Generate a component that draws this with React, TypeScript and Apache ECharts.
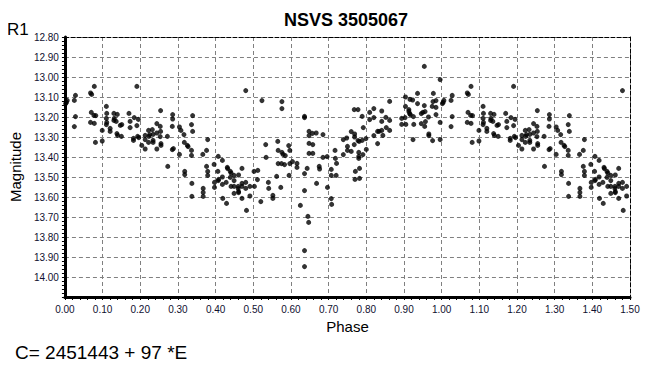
import React, { useEffect, useRef } from "react";
import * as echarts from "echarts";

const title = "NSVS 3505067";
const ephemeris = "C= 2451443 + 97 *E";
const xName = "Phase";
const yName = "Magnitude";
const bandName = "R1";

// phase (0..1) readings
const phases: number[] = [
  0.002, 0.006, 0.004, 0.025, 0.028, 0.028, 0.025, 0.068, 0.071, 0.078,
  0.070, 0.077, 0.082, 0.068, 0.078, 0.081, 0.099, 0.099, 0.110, 0.111,
  0.110, 0.111, 0.110, 0.120, 0.120, 0.130, 0.131, 0.130, 0.136, 0.139,
  0.138, 0.140, 0.150, 0.151, 0.147, 0.170, 0.173, 0.173, 0.182, 0.182,
  0.184, 0.191, 0.195, 0.191, 0.193, 0.196, 0.204, 0.213, 0.213, 0.213,
  0.222, 0.223, 0.222, 0.225, 0.232, 0.234, 0.234, 0.234, 0.244, 0.244,
  0.244, 0.254, 0.253, 0.254, 0.253, 0.255, 0.255, 0.272, 0.273, 0.286,
  0.286, 0.285, 0.285, 0.288, 0.304, 0.308, 0.304, 0.316, 0.318, 0.318,
  0.317, 0.325, 0.327, 0.339, 0.336, 0.339, 0.336, 0.336, 0.337, 0.337,
  0.366, 0.376, 0.379, 0.376, 0.379, 0.379, 0.367, 0.367, 0.367, 0.396,
  0.397, 0.397, 0.407, 0.406, 0.408, 0.407, 0.418, 0.418, 0.418, 0.419,
  0.429, 0.428, 0.431, 0.432, 0.439, 0.441, 0.439, 0.441, 0.449, 0.449,
  0.449, 0.449, 0.461, 0.460, 0.460, 0.461, 0.461, 0.470, 0.470, 0.470,
  0.470, 0.480, 0.480, 0.480, 0.482, 0.491, 0.491, 0.502, 0.503, 0.512,
  0.511, 0.520, 0.523, 0.533, 0.534, 0.540, 0.541, 0.552, 0.552, 0.562,
  0.565, 0.566, 0.566, 0.573, 0.575, 0.576, 0.576, 0.576, 0.579, 0.585,
  0.583, 0.594, 0.597, 0.595, 0.597, 0.604, 0.616, 0.616, 0.625, 0.636,
  0.636, 0.636, 0.636, 0.636, 0.636, 0.643, 0.645, 0.647, 0.648, 0.648,
  0.648, 0.648, 0.657, 0.658, 0.658, 0.667, 0.668, 0.675, 0.676, 0.685,
  0.685, 0.696, 0.697, 0.707, 0.707, 0.707, 0.708, 0.717, 0.718, 0.721,
  0.720, 0.739, 0.739, 0.748, 0.750, 0.750, 0.760, 0.760, 0.769, 0.769,
  0.768, 0.771, 0.770, 0.768, 0.778, 0.778, 0.781, 0.780, 0.780, 0.780,
  0.782, 0.782, 0.789, 0.789, 0.791, 0.792, 0.799, 0.800, 0.809, 0.809,
  0.820, 0.820, 0.820, 0.830, 0.830, 0.834, 0.841, 0.841, 0.841, 0.844,
  0.852, 0.853, 0.862, 0.862, 0.862, 0.894, 0.894, 0.904, 0.904, 0.903,
  0.905, 0.913, 0.913, 0.915, 0.917, 0.916, 0.923, 0.924, 0.925, 0.926,
  0.936, 0.936, 0.946, 0.946, 0.950, 0.954, 0.954, 0.955, 0.956, 0.957,
  0.965, 0.966, 0.966, 0.975, 0.976, 0.978, 0.977, 0.985, 0.985, 0.985,
  0.996, 0.996, 0.996,
];

// R1 magnitude readings (same order)
const magnitudes: number[] = [
  13.133, 13.117, 13.127, 13.117, 13.092, 13.198, 13.248, 13.080, 13.087, 13.047,
  13.177, 13.192, 13.193, 13.227, 13.232, 13.327, 13.267, 13.320, 13.147, 13.182,
  13.207, 13.227, 13.238, 13.257, 13.272, 13.182, 13.207, 13.217, 13.222, 13.187,
  13.283, 13.292, 13.297, 13.238, 13.242, 13.182, 13.222, 13.253, 13.307, 13.317,
  13.203, 13.047, 13.212, 13.243, 13.297, 13.303, 13.342, 13.292, 13.313, 13.360,
  13.267, 13.297, 13.327, 13.288, 13.263, 13.287, 13.317, 13.327, 13.233, 13.280,
  13.360, 13.168, 13.247, 13.272, 13.298, 13.333, 13.342, 13.297, 13.447, 13.188,
  13.210, 13.247, 13.363, 13.358, 13.250, 13.267, 13.387, 13.288, 13.472, 13.488,
  13.327, 13.342, 13.348, 13.193, 13.238, 13.272, 13.367, 13.392, 13.532, 13.597,
  13.387, 13.367, 13.313, 13.447, 13.472, 13.492, 13.557, 13.577, 13.597, 13.437,
  13.527, 13.552, 13.397, 13.472, 13.512, 13.518, 13.417, 13.500, 13.537, 13.607,
  13.632, 13.527, 13.452, 13.458, 13.472, 13.480, 13.502, 13.547, 13.492, 13.518,
  13.547, 13.582, 13.490, 13.547, 13.558, 13.573, 13.578, 13.457, 13.532, 13.547,
  13.607, 13.068, 13.527, 13.557, 13.667, 13.547, 13.595, 13.472, 13.547, 13.467,
  13.513, 13.623, 13.118, 13.338, 13.402, 13.527, 13.557, 13.592, 13.607, 13.497,
  13.322, 13.367, 13.433, 13.552, 13.433, 13.123, 13.158, 13.377, 13.387, 13.393,
  13.438, 13.343, 13.367, 13.492, 13.433, 13.423, 13.432, 13.452, 13.642, 13.197,
  13.203, 13.483, 13.568, 13.868, 13.948, 13.457, 13.697, 13.727, 13.272, 13.293,
  13.332, 13.382, 13.282, 13.338, 13.382, 13.280, 13.532, 13.447, 13.460, 13.288,
  13.402, 13.398, 13.552, 13.462, 13.492, 13.608, 13.637, 13.367, 13.407, 13.432,
  13.492, 13.313, 13.388, 13.305, 13.347, 13.367, 13.273, 13.372, 13.285, 13.300,
  13.338, 13.472, 13.512, 13.163, 13.163, 13.318, 13.322, 13.377, 13.397, 13.407,
  13.457, 13.507, 13.317, 13.197, 13.388, 13.253, 13.308, 13.362, 13.177, 13.213,
  13.158, 13.203, 13.293, 13.272, 13.333, 13.272, 13.170, 13.222, 13.267, 13.292,
  13.202, 13.253, 13.122, 13.217, 13.267, 13.207, 13.237, 13.100, 13.147, 13.203,
  13.237, 13.163, 13.172, 13.183, 13.188, 13.112, 13.115, 13.313, 13.198, 13.237,
  13.082, 13.133, 13.183, 13.233, 13.177, 12.947, 13.143, 13.247, 13.173, 13.223,
  13.200, 13.285, 13.293, 13.147, 13.318, 13.082, 13.123, 13.118, 13.152, 13.188,
  13.013, 13.227, 13.313,
];

// axis ticks
const xTicks: number[] = [0, 0.1, 0.2, 0.3, 0.4, 0.5, 0.6, 0.7, 0.8, 0.9, 1.0, 1.1, 1.2, 1.3, 1.4, 1.5];
const yTicks: number[] = [12.8, 12.9, 13.0, 13.1, 13.2, 13.3, 13.4, 13.5, 13.6, 13.7, 13.8, 13.9, 14.0];

export default function App() {
  const ref = useRef<HTMLDivElement>(null);

  useEffect(() => {
    if (!ref.current) return;
    const chart = echarts.init(ref.current, null, { renderer: "svg" });

    const pts: number[][] = [];
    phases.forEach((p, i) => {
      pts.push([p, magnitudes[i]]);
    });
    // folded light curve repeated beyond phase 1.0
    phases.forEach((p, i) => {
      if (p <= 0.5) pts.push([p + 1, magnitudes[i]]);
    });

    const xMin = xTicks[0];
    const xMax = xTicks[xTicks.length - 1];
    const yMin = yTicks[0];
    const yMax = 14.1;

    const labelFont = { fontFamily: "Liberation Sans, Arial, sans-serif", fontSize: 10, color: "#101030" };

    chart.setOption({
      animation: false,
      backgroundColor: "#ffffff",
      title: {
        text: title,
        left: 341,
        top: 6,
        textAlign: "center",
        textStyle: { fontFamily: "Liberation Sans, Arial, sans-serif", fontWeight: "bold", fontSize: 18, color: "#000" },
      },
      graphic: [
        {
          type: "text",
          left: 7,
          top: 21,
          style: { text: bandName, fontSize: 17, fontFamily: "Liberation Sans, Arial, sans-serif", fill: "#000" },
        },
        {
          type: "text",
          left: 15,
          top: 343,
          style: { text: ephemeris, fontSize: 19, fontFamily: "Liberation Sans, Arial, sans-serif", fill: "#000" },
        },
      ],
      grid: { left: 60, right: 33, top: 37, bottom: 81, containLabel: false },
      xAxis: [
        {
          type: "value",
          min: xMin,
          max: xMax,
          interval: 0.1,
          position: "bottom",
          name: xName,
          nameLocation: "middle",
          nameGap: 22,
          nameTextStyle: { fontFamily: "Liberation Sans, Arial, sans-serif", fontSize: 15, color: "#000" },
          axisLine: { show: true, onZero: false, lineStyle: { color: "#000", width: 3 } },
          axisTick: { show: true, inside: false, length: 3, lineStyle: { color: "#000" } },
          minorTick: { show: true, splitNumber: 5, length: 3, lineStyle: { color: "#000" } },
          axisLabel: { ...labelFont, margin: 7, formatter: (v: number) => v.toFixed(2) },
          splitLine: { show: true, lineStyle: { color: "#808080", type: [4, 3], width: 1 } },
        },
        {
          type: "value",
          min: xMin,
          max: xMax,
          position: "top",
          axisLine: { show: true, onZero: false, lineStyle: { color: "#000", width: 1, type: [4, 2] } },
          axisTick: { show: false },
          axisLabel: { show: false },
          splitLine: { show: false },
        },
      ],
      yAxis: [
        {
          type: "value",
          inverse: true,
          min: yMin,
          max: yMax,
          interval: 0.1,
          position: "left",
          name: yName,
          nameLocation: "middle",
          nameGap: 38,
          nameTextStyle: { fontFamily: "Liberation Sans, Arial, sans-serif", fontSize: 15, color: "#000" },
          axisLine: { show: true, onZero: false, lineStyle: { color: "#000", width: 3 } },
          axisTick: { show: true, inside: false, length: 3, lineStyle: { color: "#000" } },
          minorTick: { show: true, splitNumber: 5, length: 3, lineStyle: { color: "#000" } },
          axisLabel: {
            ...labelFont,
            margin: 6,
            formatter: (v: number) => (v > 14.05 ? "" : v.toFixed(2)),
          },
          splitLine: { show: true, lineStyle: { color: "#808080", type: [4, 3], width: 1 } },
        },
        {
          type: "value",
          inverse: true,
          min: yMin,
          max: yMax,
          position: "right",
          axisLine: { show: true, onZero: false, lineStyle: { color: "#000", width: 1, type: [4, 2] } },
          axisTick: { show: false },
          axisLabel: { show: false },
          splitLine: { show: false },
        },
      ],
      series: [
        {
          type: "scatter",
          xAxisIndex: 0,
          yAxisIndex: 0,
          data: pts,
          symbol: "circle",
          symbolSize: 5,
          itemStyle: { color: "#000" },
        },
      ],
    });

    return () => chart.dispose();
  }, []);

  return <div ref={ref} style={{ width: 663, height: 378, margin: -8 }} />;
}
